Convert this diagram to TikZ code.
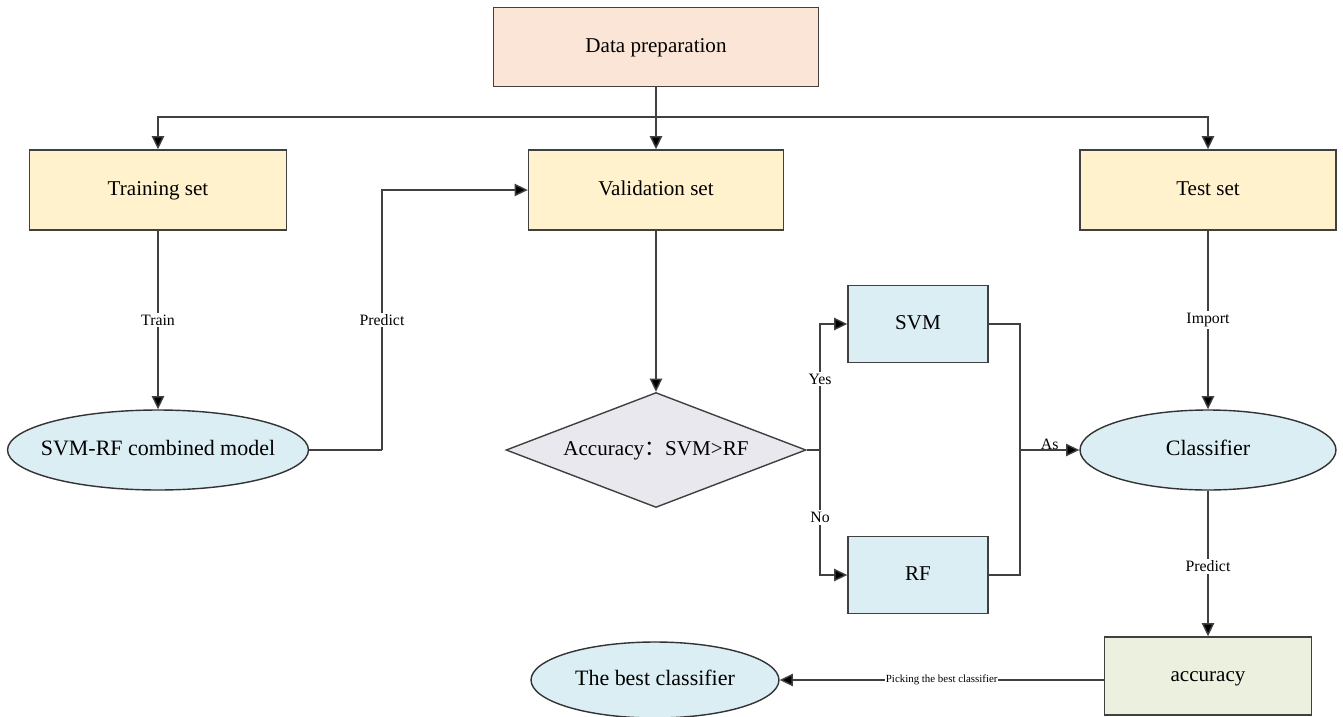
\documentclass[tikz,border=0pt]{standalone}
\usepackage{fontspec}
\setmainfont{Liberation Serif}
\newfontfamily\cjk{Noto Sans CJK SC}
\usetikzlibrary{arrows.meta,shapes.geometric}

\definecolor{prepfill}{HTML}{FBE5D6}
\definecolor{setfill}{HTML}{FFF2CC}
\definecolor{bluefill}{HTML}{DAEEF3}
\definecolor{decfill}{HTML}{EAE8EF}
\definecolor{accfill}{HTML}{EBF1DE}
\definecolor{edgegray}{HTML}{404040}

\begin{document}
\begin{tikzpicture}[x=0.02cm,y=-0.02cm,line width=0.8pt,>=Stealth,
  box/.style={draw=edgegray,rectangle,inner sep=0pt,text height=0.62em,text depth=0pt,
    font=\fontsize{12}{14}\selectfont},
  oval/.style={draw=black!80,ellipse,inner sep=0pt,fill=bluefill,text height=0.62em,text depth=0pt,
    font=\fontsize{12.5}{14}\selectfont},
  arr/.style={draw=edgegray,-{Triangle[length=7.5pt,width=7pt,fill=black]}},
  conn/.style={draw=edgegray},
  lbl/.style={fill=white,inner sep=1pt,font=\fontsize{9}{10}\selectfont}]
\useasboundingbox (0,0) rectangle (1343,717);
% ---------- top row ----------
\node[box,fill=prepfill,minimum width=6.5cm,minimum height=1.58cm] (prep) at (656,47) {Data preparation};
\node[box,fill=setfill,minimum width=5.14cm,minimum height=1.6cm] (train) at (158,190) {Training set};
\node[box,fill=setfill,minimum width=5.1cm,minimum height=1.6cm] (valid) at (656,190) {Validation set};
\node[box,fill=setfill,minimum width=5.12cm,minimum height=1.6cm] (test) at (1208,190) {Test set};
\coordinate (bus) at (656,117);
\draw[arr] (prep.south) -- (valid.north);
\draw[arr] (bus) -| (train.north);
\draw[arr] (bus) -| (test.north);
% ---------- middle row ----------
\node[oval,inner xsep=-7pt,minimum width=6.02cm,minimum height=1.6cm] (model) at (158,450) {SVM-RF combined model};
\node[draw=edgegray,diamond,aspect=2.6,fill=decfill,inner sep=0pt,minimum width=6cm,minimum height=2.3cm,
  text height=0.62em,text depth=0pt,font=\fontsize{12}{14}\selectfont] (dec) at (656,450) {Accuracy{\cjk ：}SVM>RF};
\node[box,fill=bluefill,minimum width=2.8cm,minimum height=1.54cm] (svm) at (918,324) {SVM};
\node[box,fill=bluefill,minimum width=2.8cm,minimum height=1.54cm] (rf) at (918,575) {RF};
\node[oval,minimum width=5.12cm,minimum height=1.6cm] (cls) at (1208,450) {Classifier};
\draw[arr] (train.south) -- node[lbl]{Train} (model.north);
\coordinate (pr) at (382,450);
\draw[conn] (model.east) -- (pr);
\draw[arr] (pr) |- node[lbl,pos=0.25]{Predict} (valid.west);
\draw[arr] (valid.south) -- (dec.north);
\coordinate (split) at (820,450);
\draw[conn] (dec.east) -- (split);
\draw[arr] (split) |- node[lbl,pos=0.28]{Yes} (svm.west);
\draw[arr] (split) |- node[lbl,pos=0.27]{No} (rf.west);
\coordinate (merge) at (1020,450);
\draw[conn] (svm.east) -| (merge);
\draw[conn] (rf.east) -| (merge);
\draw[arr] (merge) -- node[above=-1pt,font=\fontsize{9}{10}\selectfont,inner sep=1pt]{As} (cls.west);
\draw[arr] (test.south) -- node[lbl]{Import} (cls.north);
% ---------- bottom row ----------
\node[box,fill=accfill,minimum width=4.14cm,minimum height=1.56cm] (acc) at (1208,676) {accuracy};
\node[oval,minimum width=4.96cm,minimum height=1.52cm] (best) at (655,680) {The best classifier};
\draw[arr] (cls.south) -- node[lbl,pos=0.52]{Predict} (acc.north);
\draw[arr] (acc.west |- best.east) -- node[lbl,pos=0.5,font=\fontsize{6.2}{7}\selectfont,inner sep=0.5pt]{Picking the best classifier} (best.east);
\end{tikzpicture}
\end{document}
